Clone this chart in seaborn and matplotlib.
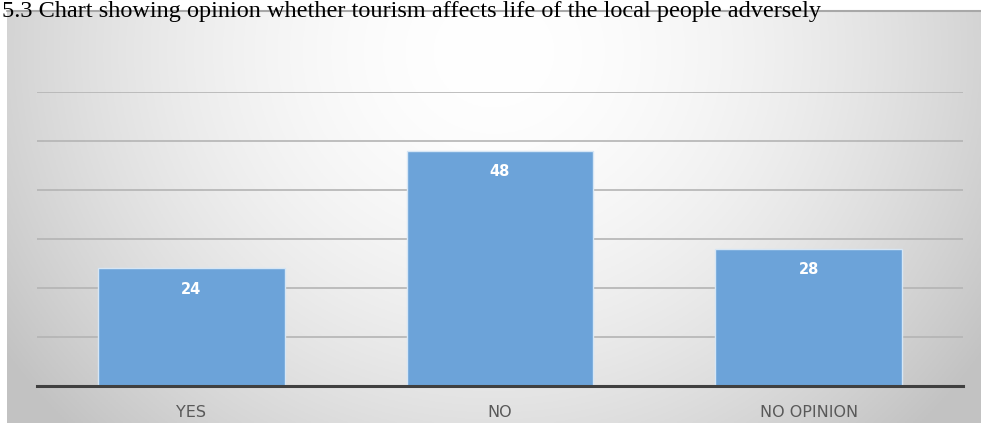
import numpy as np
import pandas as pd
import matplotlib
matplotlib.use("Agg")
import matplotlib.pyplot as plt
import seaborn as sns

categories = ["YES", "NO", "NO OPINION"]
values = [24, 48, 28]
title_text = "5.3 Chart showing opinion whether tourism affects life of the local people adversely"

sns.set_style("white")
plt.rcParams['font.family'] = ['DejaVu Sans']

W, H = 981, 423
fig = plt.figure(figsize=(W/100, H/100), dpi=100)

# background gradient panel
bg = fig.add_axes([7/W, 0, 1 - 7/W, (H - 11)/H])
ny, nx = 200, 500
yy, xx = np.mgrid[0:1:ny*1j, 0:1:nx*1j]
d = np.sqrt(((xx - 0.5) / 0.55) ** 2 + ((yy - 0.1) / 1.2) ** 2)
val = 1.0 - 0.2 * np.clip(d, 0, 1.1) ** 1.8
img = np.dstack([val, val, val])
bg.imshow(img, aspect='auto', extent=[0, 1, 0, 1], origin='upper')
bg.set_axis_off()
# top border line
fig.add_artist(plt.Line2D([7/W, 1], [(H - 11)/H, (H - 11)/H], color='#a8a8a8', lw=1.5))

# title
fig.text(2/W, (H - 1)/H, title_text, fontsize=17.5, family='Liberation Serif',
         color='black', va='top', ha='left', zorder=10)

ax = fig.add_axes([37/W, (H - 386)/H, (963 - 37)/W, (386 - 92)/H])
ax.patch.set_alpha(0)
df = pd.DataFrame({"cat": categories, "val": values})
sns.barplot(data=df, x="cat", y="val", ax=ax, color='#6ca3d9', width=0.605,
            edgecolor='#d6e6f5', linewidth=1.0, saturation=1, zorder=3)
ax.set_ylim(0, 60)
ax.set_yticks(range(0, 70, 10))
ax.yaxis.grid(True, color='#b4b4b4', lw=1.2, zorder=0)
ax.set_axisbelow(True)
ax.tick_params(axis='y', left=False, labelleft=False)
ax.tick_params(axis='x', bottom=False, labelsize=11.5, labelcolor='#595959', pad=10)
ax.set_xlabel("")
ax.set_ylabel("")
for s in ['top', 'right', 'left']:
    ax.spines[s].set_visible(False)
ax.spines['bottom'].set_color('#404040')
ax.spines['bottom'].set_linewidth(2.2)
ax.spines['bottom'].set_zorder(5)
ax.set_xlim(-0.5, 2.5)

for i, v in enumerate(values):
    ax.annotate(str(v), (i, v), xytext=(0, -15), textcoords='offset points',
                ha='center', va='center', color='white', fontsize=10.5,
                fontweight='bold', zorder=6)

fig.savefig("out.png", dpi=100)
